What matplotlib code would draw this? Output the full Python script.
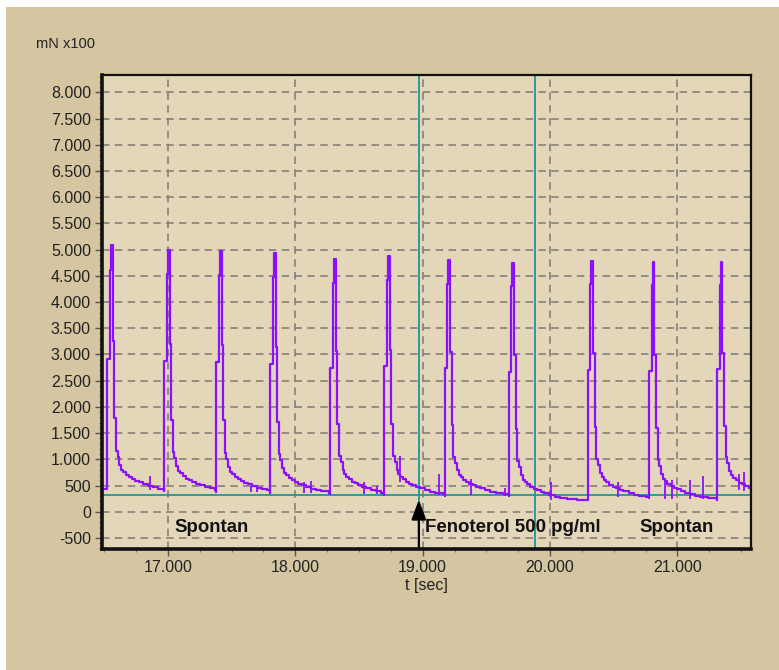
import matplotlib
matplotlib.use("Agg")
import matplotlib.pyplot as plt
from matplotlib.ticker import MultipleLocator, FuncFormatter
from matplotlib.patches import Rectangle

# ---- data ----
# twitch onsets (s), peak force (mN x100), resting level reached after each twitch
onsets = [16.525, 16.971, 17.380, 17.804, 18.276, 18.700, 19.172, 19.675, 20.296, 20.776, 21.311]
peaks = [5080, 5000, 4980, 4930, 4820, 4870, 4800, 4750, 4790, 4770, 4770]
rest_after = [390, 370, 355, 340, 315, 310, 310, 215, 255, 230, 300]
start_level = 430

# twitch shape: time after onset (s) and fraction of amplitude above resting level
shape_t = [0.000, 0.021, 0.029, 0.042, 0.055, 0.068, 0.080, 0.095, 0.110, 0.125,
           0.145, 0.170, 0.195, 0.220, 0.250, 0.280, 0.320, 0.360, 0.400, 0.460, 0.540, 0.700]
shape_f = [0.54, 0.90, 1.00, 0.61, 0.30, 0.165, 0.140, 0.108, 0.088, 0.078,
           0.068, 0.057, 0.050, 0.043, 0.036, 0.030, 0.022, 0.016, 0.011, 0.006, 0.002, 0.0]

# small artefact spikes: time, low, high
spike_t = [16.86, 17.65, 17.70, 18.07, 18.12, 18.54, 18.64, 18.82, 19.13, 19.38, 19.65,
           20.01, 20.53, 20.90, 20.96, 21.10, 21.20, 21.48, 21.52]
spike_lo = [420, 380, 380, 360, 360, 340, 330, 560, 320, 320, 310,
            230, 280, 250, 250, 240, 235, 420, 400]
spike_hi = [690, 500, 520, 560, 595, 570, 500, 1060, 720, 630, 450,
            570, 570, 595, 600, 610, 690, 720, 760]

baseline = 320          # teal reference line
marker_t = [18.97, 19.88]  # teal vertical markers
x_ticks = [17, 18, 19, 20, 21]
y_ticks = list(range(-500, 8001, 500))
labels_txt = ["Spontan", "Fenoterol 500 pg/ml", "Spontan"]
labels_t = [17.05, 19.02, 20.70]
labels_y = -300
arrow_t = 18.97
arrow_tip = 230

xlim = (16.483, 21.577)
ylim = (-710, 8330)

# ---- build trace ----
tt = [xlim[0]]
yy = [start_level]
for i, t0 in enumerate(onsets):
    nxt = onsets[i + 1] if i + 1 < len(onsets) else xlim[1] + 0.01
    rest = rest_after[i]
    amp = peaks[i] - rest
    for dt, f in zip(shape_t, shape_f):
        if t0 + dt < nxt:
            tt.append(t0 + dt)
            yy.append(rest + amp * f)
    if tt[-1] < nxt:
        tt.append(min(nxt, xlim[1]))
        yy.append(rest)

plt.rcParams['font.family'] = ['Liberation Sans', 'DejaVu Sans']

fig = plt.figure(figsize=(7.79, 6.70), dpi=100, facecolor='white')
fig.patches.append(Rectangle((6 / 779, 0), 1, 1 - 7 / 670, transform=fig.transFigure,
                             facecolor='#D5C5A1', edgecolor='none', zorder=-10))

ax = fig.add_axes([102 / 779, 1 - 549 / 670, (751 - 102) / 779, (549 - 75) / 670])
ax.set_facecolor('#E4D6B9')

for y in y_ticks:
    ax.axhline(y, color='#858079', lw=1.2, ls=(0, (4.5, 3.2)), zorder=1)
for x in x_ticks:
    ax.axvline(x, color='#858079', lw=1.2, ls=(0, (4.5, 3.2)), zorder=1)

ax.axhline(baseline, color='#1E9696', lw=1.3, zorder=2)
for x in marker_t:
    ax.axvline(x, color='#1E9696', lw=1.3, zorder=2)

ax.plot(tt, yy, color='#8B10FF', lw=1.6, drawstyle='steps-post', zorder=3)
ax.vlines(spike_t, spike_lo, spike_hi, color='#8B10FF', lw=1.3, zorder=3)

for txt, x in zip(labels_txt, labels_t):
    ax.text(x, labels_y, txt, fontsize=13.4, fontweight='bold', ha='left', va='center',
            color='#111111', zorder=5)

ax.annotate('', xy=(arrow_t, arrow_tip), xytext=(arrow_t, ylim[0]),
            arrowprops=dict(arrowstyle='-|>,head_length=1.2,head_width=0.45',
                            color='black', lw=1.6, shrinkA=0, shrinkB=0), zorder=6)

ax.set_xlim(*xlim)
ax.set_ylim(*ylim)
ax.set_xticks(x_ticks)
ax.set_yticks(y_ticks)
ax.xaxis.set_minor_locator(MultipleLocator(0.25))
ax.yaxis.set_minor_locator(MultipleLocator(100))


def de_fmt(v, pos=None):
    return f"{int(round(v)):,}".replace(",", ".")


def x_fmt(v, pos=None):
    return f"{int(round(v))}.000"


ax.xaxis.set_major_formatter(FuncFormatter(x_fmt))
ax.yaxis.set_major_formatter(FuncFormatter(de_fmt))
ax.tick_params(axis='both', which='major', direction='out', length=5, width=1,
               color='#555555', labelsize=11.5, labelcolor='#222222', pad=3)
ax.tick_params(axis='both', which='minor', direction='out', length=2.5, width=0.8,
               color='#777777')

for side in ['left', 'bottom']:
    ax.spines[side].set_linewidth(2.6)
for side in ['top', 'right']:
    ax.spines[side].set_linewidth(1.6)
for s in ax.spines.values():
    s.set_color('#111111')
    s.set_zorder(7)

ax.set_xlabel('t [sec]', fontsize=11.5, color='#222222', labelpad=2)
fig.text(36 / 779, 1 - 44 / 670, 'mN x100', fontsize=10.5, color='#222222',
         ha='left', va='center')

fig.savefig('out.png', dpi=100, facecolor=fig.get_facecolor())
